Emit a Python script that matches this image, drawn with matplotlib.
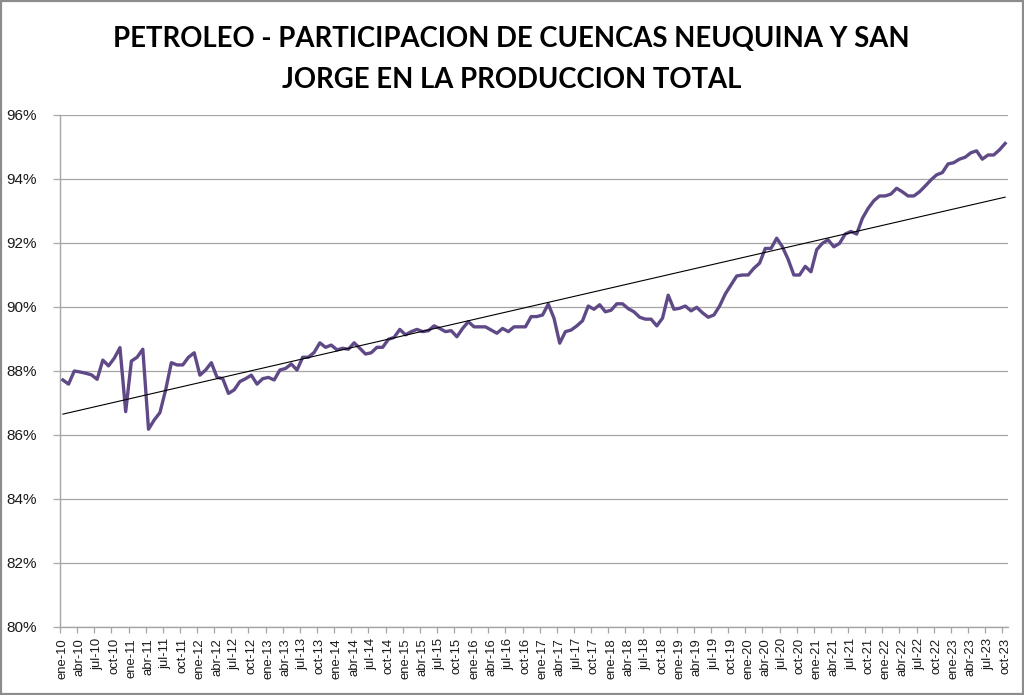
import numpy as np
import matplotlib
matplotlib.use("Agg")
import matplotlib.pyplot as plt
from matplotlib.patches import Rectangle

# ---- data ----
month_abbr = ["ene", "feb", "mar", "abr", "may", "jun", "jul", "ago", "sep", "oct", "nov", "dic"]
start_year = 2010
share_pct = [
    87.72, 87.59, 88.00, 87.97, 87.93, 87.88, 87.74, 88.34, 88.16, 88.40,
    88.73, 86.73, 88.31, 88.43, 88.68, 86.18, 86.47, 86.70, 87.41, 88.26,
    88.19, 88.19, 88.43, 88.57, 87.87, 88.03, 88.26, 87.80, 87.76, 87.30,
    87.41, 87.67, 87.76, 87.87, 87.59, 87.76, 87.80, 87.72, 88.03, 88.08,
    88.22, 88.03, 88.43, 88.43, 88.58, 88.88, 88.74, 88.81, 88.66, 88.71,
    88.68, 88.88, 88.71, 88.53, 88.57, 88.74, 88.74, 88.99, 89.05, 89.30,
    89.13, 89.23, 89.30, 89.23, 89.26, 89.41, 89.33, 89.23, 89.26, 89.07,
    89.33, 89.54, 89.38, 89.38, 89.38, 89.28, 89.18, 89.33, 89.23, 89.38,
    89.38, 89.38, 89.70, 89.70, 89.75, 90.09, 89.65, 88.87, 89.23, 89.28,
    89.41, 89.57, 90.03, 89.93, 90.07, 89.85, 89.90, 90.10, 90.10, 89.95,
    89.85, 89.68, 89.62, 89.62, 89.41, 89.65, 90.37, 89.93, 89.96, 90.03,
    89.88, 89.99, 89.82, 89.68, 89.75, 90.03, 90.41, 90.69, 90.97, 91.00,
    91.00, 91.21, 91.37, 91.83, 91.83, 92.15, 91.88, 91.49, 91.00, 91.00,
    91.27, 91.10, 91.79, 91.99, 92.10, 91.88, 91.99, 92.28, 92.36, 92.28,
    92.77, 93.08, 93.32, 93.47, 93.47, 93.53, 93.71, 93.60, 93.47, 93.47,
    93.60, 93.78, 93.97, 94.13, 94.20, 94.47, 94.51, 94.62, 94.68, 94.82,
    94.88, 94.62, 94.75, 94.75, 94.91, 95.11,
]
y_ticks = [80, 82, 84, 86, 88, 90, 92, 94, 96]
title = "PETROLEO - PARTICIPACION DE CUENCAS NEUQUINA Y SAN\nJORGE EN LA PRODUCCION TOTAL"

n = len(share_pct)
categories = [f"{month_abbr[i % 12]}-{(start_year + i // 12) % 100:02d}" for i in range(n)]
idx = np.arange(n)
vals = np.array(share_pct)

# ---- figure ----
fig = plt.figure(figsize=(10.24, 6.95), dpi=100)
fig.patch.set_facecolor("white")
fig.patches.append(Rectangle((0.001, 0.001), 0.998, 0.997, transform=fig.transFigure,
                             fill=False, edgecolor="#8c8c8c", linewidth=1.6))

ax = fig.add_axes([60 / 1024, 1 - 627 / 695, (1008 - 60) / 1024, (627 - 115) / 695])

ax.plot(idx, vals, color="#5f4a87", linewidth=2.4, solid_joinstyle="round", zorder=3)

coef = np.polyfit(idx, vals, 1)
ax.plot(idx, np.polyval(coef, idx), color="black", linewidth=0.8, zorder=4)

ax.set_xlim(-0.5, n - 0.5)
ax.set_ylim(80, 96)

ax.set_yticks(y_ticks)
ax.set_yticklabels([f"{t}%" for t in y_ticks], fontfamily="Liberation Sans", fontsize=11, color="#1a1a1a")
ax.yaxis.grid(True, color="#a6a6a6", linewidth=0.9)
ax.set_axisbelow(True)

major = idx[::3]
ax.set_xticks(major)
ax.set_xticklabels([categories[i] for i in major], rotation=90, fontfamily="Liberation Sans",
                   fontsize=9.4, color="#1a1a1a")
ax.set_xticks(np.arange(-0.5, n, 3), minor=True)
ax.tick_params(axis="x", which="major", length=0, pad=8)
ax.tick_params(axis="x", which="minor", length=4.5, color="#a6a6a6", width=0.9)
ax.tick_params(axis="y", length=5, color="#a6a6a6", width=0.9, pad=12)

for s in ["top", "right"]:
    ax.spines[s].set_visible(False)
for s in ["left", "bottom"]:
    ax.spines[s].set_color("#a6a6a6")
    ax.spines[s].set_linewidth(1.0)

fig.text(0.4995, 1 - 59.5 / 695, title, ha="center", va="center", fontfamily="Lato",
         fontweight="bold", fontsize=19.8, linespacing=1.72, color="black")

fig.savefig("out.png", dpi=100, facecolor="white")
